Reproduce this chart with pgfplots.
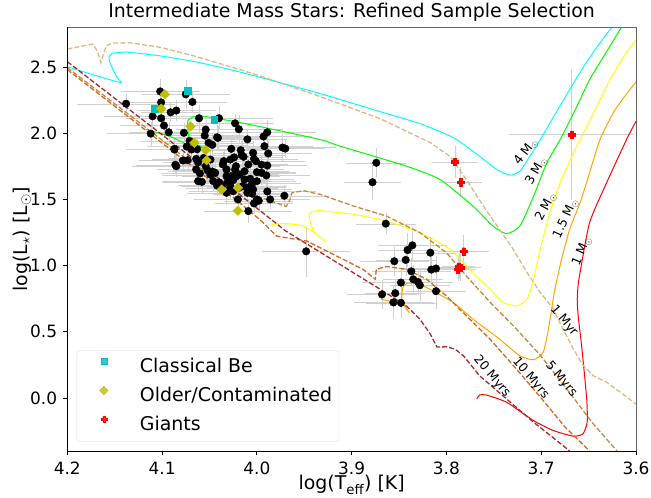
\documentclass[border=0pt]{standalone}
\usepackage{fontspec}
\setmainfont{DejaVu Sans}
\usepackage{pgfplots}
\pgfplotsset{compat=1.18}
\usepackage{pgfplotstable}

% filled "plus" marker
\pgfdeclareplotmark{Pfill}{%
  \pgfpathmoveto{\pgfqpoint{-0.36\pgfplotmarksize}{\pgfplotmarksize}}%
  \pgfpathlineto{\pgfqpoint{0.36\pgfplotmarksize}{\pgfplotmarksize}}%
  \pgfpathlineto{\pgfqpoint{0.36\pgfplotmarksize}{0.36\pgfplotmarksize}}%
  \pgfpathlineto{\pgfqpoint{\pgfplotmarksize}{0.36\pgfplotmarksize}}%
  \pgfpathlineto{\pgfqpoint{\pgfplotmarksize}{-0.36\pgfplotmarksize}}%
  \pgfpathlineto{\pgfqpoint{0.36\pgfplotmarksize}{-0.36\pgfplotmarksize}}%
  \pgfpathlineto{\pgfqpoint{0.36\pgfplotmarksize}{-\pgfplotmarksize}}%
  \pgfpathlineto{\pgfqpoint{-0.36\pgfplotmarksize}{-\pgfplotmarksize}}%
  \pgfpathlineto{\pgfqpoint{-0.36\pgfplotmarksize}{-0.36\pgfplotmarksize}}%
  \pgfpathlineto{\pgfqpoint{-\pgfplotmarksize}{-0.36\pgfplotmarksize}}%
  \pgfpathlineto{\pgfqpoint{-\pgfplotmarksize}{0.36\pgfplotmarksize}}%
  \pgfpathlineto{\pgfqpoint{-0.36\pgfplotmarksize}{0.36\pgfplotmarksize}}%
  \pgfpathclose
  \pgfusepathqfillstroke
}

\definecolor{beclr}{rgb}{0,0.75,0.75}
\definecolor{oldclr}{rgb}{0.75,0.75,0}
\definecolor{trkcyan}{RGB}{0,255,255}
\definecolor{trklime}{RGB}{0,255,0}
\definecolor{trkyellow}{RGB}{255,255,0}
\definecolor{trkorange}{RGB}{255,165,0}
\definecolor{trkred}{RGB}{255,0,0}
\definecolor{isoone}{RGB}{222,184,135}
\definecolor{isofive}{RGB}{205,133,63}
\definecolor{isoten}{RGB}{210,105,30}
\definecolor{isotwenty}{RGB}{165,42,42}
\definecolor{errclr}{RGB}{208,208,208}

% sample stars: log Teff, log L, errors
\pgfplotstableread{
x y ex ey
4.102 2.316 0.040 0.08
4.075 2.294 0.045 0.10
4.068 2.236 0.035 0.07
4.138 2.223 0.050 0.06
4.101 2.233 0.040 0.08
4.091 2.158 0.030 0.06
4.085 2.171 0.040 0.07
4.110 2.128 0.050 0.08
4.101 2.113 0.035 0.06
4.098 2.058 0.045 0.07
4.061 2.113 0.050 0.09
4.040 2.113 0.055 0.08
4.023 2.075 0.040 0.06
4.019 2.030 0.045 0.10
3.989 2.007 0.050 0.08
4.093 2.007 0.040 0.07
4.077 2.003 0.035 0.06
4.112 1.997 0.045 0.08
4.054 2.027 0.030 0.06
4.055 1.982 0.040 0.07
4.042 1.969 0.045 0.08
4.010 1.954 0.040 0.06
4.071 1.942 0.050 0.09
4.047 1.912 0.035 0.07
4.051 1.927 0.045 0.06
4.074 1.899 0.040 0.08
4.087 1.882 0.050 0.07
4.069 1.877 0.035 0.06
4.063 1.879 0.045 0.08
4.027 1.882 0.040 0.07
4.017 1.872 0.030 0.06
4.016 1.834 0.045 0.10
4.014 1.822 0.040 0.07
3.992 1.902 0.050 0.08
3.973 1.892 0.055 0.09
3.970 1.884 0.040 0.06
3.988 1.847 0.045 0.08
4.024 1.817 0.035 0.07
4.073 1.796 0.050 0.08
4.078 1.794 0.040 0.06
4.064 1.807 0.045 0.07
4.056 1.814 0.035 0.08
4.049 1.801 0.040 0.09
4.003 1.807 0.045 0.07
4.001 1.789 0.050 0.08
4.086 1.762 0.040 0.06
4.085 1.751 0.045 0.07
3.989 1.756 0.040 0.08
3.995 1.762 0.035 0.06
4.022 1.751 0.045 0.07
4.036 1.764 0.040 0.08
4.054 1.751 0.050 0.09
4.064 1.726 0.040 0.07
4.052 1.719 0.035 0.06
4.047 1.711 0.045 0.08
4.032 1.726 0.040 0.07
4.023 1.726 0.050 0.08
4.013 1.713 0.045 0.06
4.000 1.706 0.040 0.07
3.995 1.701 0.035 0.08
3.990 1.681 0.045 0.09
4.060 1.696 0.040 0.07
4.049 1.686 0.050 0.06
4.027 1.676 0.040 0.08
4.022 1.673 0.045 0.07
4.062 1.638 0.035 0.06
4.058 1.633 0.040 0.08
4.046 1.638 0.045 0.07
4.040 1.630 0.050 0.09
4.031 1.630 0.040 0.06
4.025 1.645 0.035 0.07
4.015 1.600 0.045 0.08
4.011 1.590 0.040 0.06
4.005 1.620 0.050 0.07
4.032 1.550 0.040 0.08
4.025 1.562 0.045 0.07
4.010 1.550 0.035 0.06
4.005 1.543 0.040 0.08
3.989 1.560 0.050 0.09
3.971 1.528 0.045 0.07
3.986 1.500 0.040 0.06
3.998 1.490 0.035 0.08
4.020 1.500 0.045 0.07
4.003 1.470 0.040 0.06
4.009 1.412 0.045 0.08
4.019 1.588 0.040 0.07
4.028 1.588 0.045 0.08
4.037 1.600 0.035 0.06
4.042 1.605 0.040 0.07
4.041 1.965 0.045 0.08
4.087 1.877 0.040 0.07
3.993 1.975 0.050 0.06
4.004 1.852 0.040 0.08
4.035 1.789 0.045 0.07
4.028 1.801 0.035 0.09
4.009 1.764 0.040 0.06
4.032 1.676 0.045 0.08
4.018 1.688 0.040 0.07
4.013 1.651 0.035 0.06
4.007 1.656 0.045 0.08
4.000 1.638 0.040 0.07
4.028 1.600 0.050 0.08
4.004 1.575 0.040 0.06
4.000 1.500 0.045 0.07
4.044 1.701 0.040 0.08
4.062 1.781 0.035 0.07
3.878 1.630 0.028 0.12
3.874 1.777 0.030 0.10
3.948 1.108 0.045 0.18
3.864 1.317 0.030 0.07
3.836 1.153 0.035 0.10
3.841 1.118 0.030 0.12
3.817 1.098 0.025 0.09
3.855 1.033 0.035 0.10
3.843 1.043 0.030 0.11
3.837 0.957 0.040 0.09
3.816 0.970 0.030 0.10
3.811 0.978 0.035 0.08
3.835 0.897 0.030 0.10
3.830 0.877 0.035 0.09
3.828 0.852 0.030 0.11
3.848 0.872 0.040 0.10
3.811 0.807 0.030 0.12
3.868 0.782 0.035 0.10
3.854 0.792 0.030 0.09
3.856 0.722 0.040 0.11
3.848 0.719 0.035 0.10
}\stars

\pgfplotstableread{
x y ex ey
4.073 2.321 0.040 0.08
4.108 2.186 0.045 0.07
4.045 2.100 0.040 0.08
}\classicalbe

\pgfplotstableread{
x y ex ey
4.097 2.294 0.040 0.08
4.101 2.186 0.045 0.07
4.070 2.052 0.040 0.08
4.066 1.927 0.035 0.06
4.054 1.872 0.045 0.08
4.053 1.796 0.040 0.07
4.037 1.575 0.045 0.08
4.020 1.588 0.040 0.06
4.020 1.415 0.045 0.08
}\olderstars

\pgfplotstableread{
x y ex ey
3.791 1.784 0.023 0.11
3.785 1.630 0.021 0.10
3.782 1.108 0.025 0.11
3.787 0.993 0.016 0.08
3.788 0.972 0.018 0.08
3.785 0.985 0.020 0.09
3.668 1.990 0.064 0.48
}\giants

\begin{document}
\begin{tikzpicture}
\useasboundingbox (-67.3bp,-47bp) rectangle (583.7bp,451bp);
\begin{axis}[
  at={(0,0)}, anchor=south west,
  width=568.7bp, height=423.7bp, scale only axis,
  x dir=reverse,
  xmin=3.6, xmax=4.2, ymin=-0.4, ymax=2.8,
  clip mode=individual,
  xtick={3.6,3.7,3.8,3.9,4.0,4.1,4.2},
  ytick={0,0.5,1,1.5,2,2.5},
  /pgf/number format/assume math mode=true,
  /pgf/number format/fixed,
  /pgf/number format/fixed zerofill,
  /pgf/number format/precision=1,
  xtick pos=left, ytick pos=left,
  tick align=outside,
  major tick length=4.4bp,
  tick style={black, line width=0.8bp},
  axis line style={draw=none},
  ticklabel style={font=\fontsize{17}{20}\selectfont, inner sep=0pt},
  xticklabel style={anchor=north, yshift=-6.6bp},
  yticklabel style={anchor=east, xshift=-5.6bp},
  title={Intermediate Mass Stars: Refined Sample Selection},
  title style={font=\fontsize{19}{22}\selectfont, at={(axis description cs:0.5,1)}, anchor=base, yshift=3.8bp},
  xlabel={log(T\textsubscript{eff}) [K]},
  xlabel style={font=\fontsize{19}{22}\selectfont, at={(axis description cs:0.5,-0.092)}, anchor=base},
  ylabel={log(L\textsubscript{$\star$}) [L\textsubscript{$\odot$}]},
  ylabel style={font=\fontsize{19}{22}\selectfont, at={(axis description cs:-0.0797,0.5)}, anchor=center},
  legend style={at={(axis description cs:0.0165,0.022)}, anchor=south west,
    draw=black!15, rounded corners=2.5bp, fill=white, fill opacity=0.8, text opacity=1,
    inner xsep=7bp, inner ysep=7bp, row sep=10bp,
    nodes={inner sep=0pt, text height=14bp, text depth=4bp, anchor=west},
    font=\fontsize{19}{22}\selectfont, cells={anchor=west}},
  legend image code/.code={\path[draw=none, fill=none] (0bp,0bp) -- (56bp,0bp);
    \draw[#1, only marks, mark size=3bp] plot coordinates {(20bp,6.5bp)};},
]

% error bars of every star, beneath everything else
\addplot[only marks, mark=none, forget plot,
  error bars/.cd, x dir=both, x explicit, y dir=both, y explicit,
  error bar style={errclr, line width=0.3bp},
  error mark options={errclr, line width=0.3bp, mark size=1.5bp}]
  table[x=x, y=y, x error=ex, y error=ey] {\stars};
\addplot[only marks, mark=none, forget plot,
  error bars/.cd, x dir=both, x explicit, y dir=both, y explicit,
  error bar style={errclr, line width=0.3bp},
  error mark options={errclr, line width=0.3bp, mark size=1.5bp}]
  table[x=x, y=y, x error=ex, y error=ey] {\giants};

% evolutionary tracks
\addplot[trkcyan, line width=1bp, forget plot, smooth, tension=0.35] coordinates {
(4.200,2.502) (4.173,2.442) (4.155,2.404) (4.143,2.382) (4.148,2.427) (4.155,2.532)
(4.156,2.578) (4.152,2.604) (4.137,2.612) (4.103,2.585) (4.065,2.540) (4.028,2.480)
(3.997,2.423) (3.933,2.299) (3.870,2.163) (3.828,2.073) (3.802,1.997) (3.789,1.952)
(3.765,1.826) (3.747,1.726) (3.733,1.683) (3.7225,1.713) (3.712,1.826) (3.701,1.952)
(3.6855,2.141) (3.670,2.329) (3.654,2.517) (3.638,2.683) (3.6254,2.800)};
\addplot[trklime, line width=1bp, forget plot, smooth, tension=0.35] coordinates {
(4.117,2.028) (4.092,1.977) (4.071,1.907) (4.057,1.890) (4.071,1.952) (4.073,2.090)
(4.067,2.123) (4.0565,2.128) (4.025,2.090) (3.990,2.040) (3.933,1.952) (3.912,1.902)
(3.842,1.751) (3.807,1.651) (3.772,1.450) (3.751,1.299) (3.7365,1.242) (3.7225,1.299)
(3.708,1.525) (3.694,1.777) (3.680,1.952) (3.664,2.178) (3.649,2.404) (3.633,2.593)
(3.617,2.781) (3.615,2.800)};
\addplot[trkyellow, line width=1bp, forget plot, smooth, tension=0.35] coordinates {
(3.984,1.312) (3.969,1.317) (3.951,1.299) (3.937,1.236) (3.927,1.178) (3.940,1.259)
(3.945,1.374) (3.942,1.407) (3.933,1.415) (3.898,1.387) (3.863,1.336) (3.828,1.249)
(3.796,1.123) (3.772,0.948) (3.754,0.822) (3.740,0.722) (3.726,0.696) (3.715,0.746)
(3.708,0.897) (3.701,1.123) (3.691,1.400) (3.680,1.626) (3.666,1.852) (3.659,1.952)
(3.643,2.178) (3.6275,2.404) (3.6117,2.593) (3.600,2.706)};
\addplot[trkorange, line width=1bp, forget plot, smooth, tension=0.35] coordinates {
(3.869,0.746) (3.856,0.726) (3.846,0.709) (3.8395,0.646) (3.847,0.746) (3.846,0.835)
(3.842,0.865) (3.835,0.867) (3.821,0.835) (3.793,0.722) (3.772,0.596) (3.744,0.445)
(3.7225,0.319) (3.708,0.289) (3.698,0.345) (3.693,0.496) (3.689,0.671) (3.6856,0.822)
(3.6785,1.048) (3.670,1.274) (3.659,1.475) (3.649,1.701) (3.638,1.952) (3.622,2.178)
(3.600,2.389)};
\addplot[trkred, line width=1bp, forget plot, smooth, tension=0.35] coordinates {
(3.768,-0.007) (3.765,0.023) (3.758,0.023) (3.7365,-0.032) (3.708,-0.171) (3.687,-0.246)
(3.666,-0.288) (3.656,-0.271) (3.6515,-0.183) (3.652,-0.007) (3.657,0.370) (3.661,0.621)
(3.662,0.746) (3.661,0.859) (3.659,0.948) (3.649,1.324) (3.631,1.626) (3.610,1.952)
(3.600,2.090)};

% isochrones
\addplot[isoone, line width=1.3bp, dash pattern=on 5bp off 2.2bp, forget plot] coordinates {
(4.200,2.636) (4.173,2.673) (4.168,2.615) (4.1645,2.532) (4.162,2.593) (4.159,2.661)
(4.152,2.681) (4.134,2.683) (4.102,2.649) (4.067,2.585) (4.0315,2.510) (3.997,2.434)
(3.933,2.276) (3.870,2.110) (3.817,1.929) (3.796,1.824) (3.779,1.651) (3.761,1.450)
(3.744,1.274) (3.7295,1.123) (3.715,0.948) (3.701,0.797) (3.687,0.671) (3.677,0.520)
(3.666,0.370) (3.656,0.249) (3.645,0.168) (3.631,0.119) (3.617,0.046) (3.600,-0.045)};
\addplot[isofive, line width=1.3bp, dash pattern=on 5bp off 2.2bp, forget plot] coordinates {
(4.200,2.495) (4.144,2.190) (4.081,1.843) (4.036,1.621) (4.011,1.550) (3.990,1.500)
(3.969,1.447) (3.965,1.500) (3.963,1.550) (3.951,1.566) (3.933,1.538) (3.898,1.450)
(3.863,1.374) (3.828,1.249) (3.800,1.098) (3.779,0.922) (3.754,0.724) (3.728,0.535)
(3.701,0.324) (3.673,0.068) (3.645,-0.196) (3.620,-0.400)};
\addplot[isoten, line width=1.3bp, dash pattern=on 5bp off 2.2bp, forget plot] coordinates {
(4.200,2.480) (4.144,2.171) (4.081,1.820) (4.025,1.515) (3.997,1.349) (3.979,1.223)
(3.969,1.211) (3.9475,1.186) (3.916,1.073) (3.888,0.972) (3.875,0.897) (3.874,0.972)
(3.863,0.993) (3.842,0.972) (3.821,0.897) (3.800,0.771) (3.779,0.621) (3.754,0.445)
(3.728,0.234) (3.701,0.008) (3.675,-0.218) (3.649,-0.400)};
\addplot[isotwenty, line width=1.3bp, dash pattern=on 5bp off 2.2bp, forget plot] coordinates {
(4.200,2.540) (4.144,2.231) (4.081,1.884) (4.025,1.575) (3.997,1.417) (3.969,1.259)
(3.933,1.101) (3.899,0.950) (3.870,0.822) (3.842,0.694) (3.828,0.596) (3.817,0.483)
(3.810,0.385) (3.800,0.387) (3.791,0.370) (3.782,0.319) (3.765,0.168) (3.7365,-0.007)
(3.708,-0.183) (3.677,-0.359) (3.670,-0.400)};

% stars
\addplot[only marks, mark=*, mark size=3.8bp, black, forget plot] table[x=x, y=y] {\stars};
\addplot[only marks, mark=square*, mark size=3.3bp, color=beclr] table[x=x, y=y] {\classicalbe};
\addlegendentry{Classical Be}
\addplot[only marks, mark=square*, mark size=3.4bp, mark options={rotate=45}, color=oldclr] table[x=x, y=y] {\olderstars};
\addlegendentry{Older/Contaminated}
\addplot[only marks, mark=Pfill, mark size=3.6bp, color=red] table[x=x, y=y] {\giants};
\addlegendentry{Giants}

% track and isochrone labels
\begin{scope}[every node/.style={font=\fontsize{12.5}{14}\selectfont, inner sep=0pt}]
\node[rotate=52] at (axis cs:3.716,1.858) {4 M\textsubscript{$\odot$}};
\node[rotate=60] at (axis cs:3.705,1.715) {3 M\textsubscript{$\odot$}};
\node[rotate=62] at (axis cs:3.695,1.445) {2 M\textsubscript{$\odot$}};
\node[rotate=65] at (axis cs:3.674,1.355) {1.5 M\textsubscript{$\odot$}};
\node[rotate=67] at (axis cs:3.657,1.110) {1 M\textsubscript{$\odot$}};
\node[rotate=-50] at (axis cs:3.676,0.581) {1 Myr};
\node[rotate=-50] at (axis cs:3.679,0.140) {5 Myrs};
\node[rotate=-50] at (axis cs:3.711,0.148) {10 Myrs};
\node[rotate=-50] at (axis cs:3.752,0.162) {20 Myrs};
\end{scope}

% frame
\draw[gray!80!black, line width=0.8bp] (rel axis cs:0,1) -- (rel axis cs:1,1) -- (rel axis cs:1,0);
\draw[black, line width=0.8bp] (rel axis cs:0,1) -- (rel axis cs:0,0) -- (rel axis cs:1,0);
\end{axis}
\end{tikzpicture}
\end{document}
